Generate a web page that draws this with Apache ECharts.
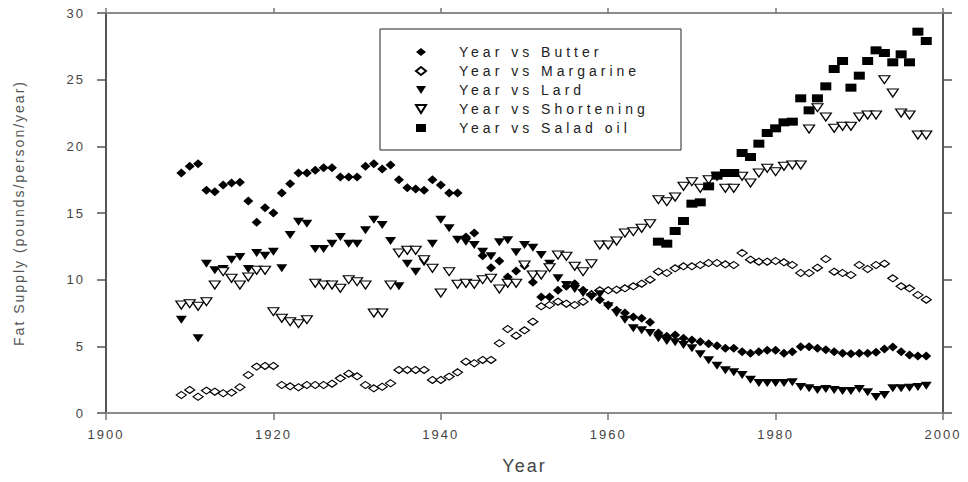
<!DOCTYPE html>
<html><head><meta charset="utf-8">
<script src="https://cdn.jsdelivr.net/npm/echarts@6/dist/echarts.min.js"></script>
<style>
html,body{margin:0;padding:0;background:#fff;}
#c{width:968px;height:482px;}
#c svg text{letter-spacing:2px;}
#c svg text[style*="Arial"]{letter-spacing:4px;}
</style></head><body><div id="c"></div>
<script>
const firstYear = 1909;
const butter = [
18.0,18.5,18.7,16.7,16.6,17.1,17.25,17.3,15.9,14.3,
15.4,15.0,16.5,17.2,18.0,18.0,18.2,18.4,18.4,17.7,
17.7,17.7,18.5,18.7,18.3,18.6,17.5,16.9,16.8,16.7,
17.5,17.1,16.5,16.5,13.2,13.5,11.8,10.9,11.4,10.2,
10.65,11.05,9.8,8.7,8.7,9.2,9.5,9.7,9.2,8.9,
8.5,8.1,7.7,7.5,7.2,7.1,6.8,6.0,5.75,5.85,
5.6,5.48,5.35,5.2,5.05,4.85,4.85,4.6,4.48,4.6,
4.7,4.7,4.48,4.6,4.97,4.97,4.85,4.75,4.6,4.48,
4.45,4.48,4.48,4.55,4.8,4.95,4.6,4.35,4.28,4.28];
const margarine = [
1.35,1.73,1.22,1.68,1.6,1.48,1.53,1.93,2.85,3.48,
3.53,3.53,2.1,2.0,1.93,2.1,2.1,2.1,2.2,2.6,
2.95,2.75,2.1,1.85,1.97,2.23,3.23,3.23,3.23,3.23,
2.48,2.48,2.73,3.05,3.85,3.73,3.98,3.98,5.23,6.3,
5.8,6.2,6.85,8.0,8.1,8.35,8.2,8.1,8.35,8.85,
9.2,9.2,9.25,9.35,9.5,9.7,10.0,10.6,10.5,10.85,
11.0,11.0,11.1,11.25,11.25,11.15,11.1,12.0,11.5,11.35,
11.35,11.4,11.3,11.1,10.5,10.5,10.9,11.55,10.6,10.5,
10.35,11.1,10.8,11.1,11.2,10.1,9.5,9.35,8.85,8.5];
const lard = [
7.0,8.2,5.6,11.2,10.7,10.8,11.5,11.7,10.8,12.0,
11.8,12.1,10.85,13.35,14.35,14.2,12.3,12.3,12.7,13.2,
12.7,12.7,13.7,14.5,14.1,12.9,9.5,11.2,10.6,11.3,
12.7,14.5,13.85,13.0,12.85,12.6,12.1,11.75,12.8,12.95,
12.05,12.6,12.4,11.85,11.2,10.1,9.6,9.3,9.0,8.7,
8.9,8.0,7.5,7.0,6.35,6.2,6.0,5.6,5.4,5.3,
5.1,4.85,4.4,3.95,3.55,3.2,3.05,2.85,2.5,2.25,
2.25,2.25,2.25,2.3,1.95,1.85,1.73,1.8,1.73,1.65,
1.65,1.8,1.55,1.2,1.35,1.85,1.85,1.9,1.95,2.05];
const shortening = [
8.1,8.2,8.0,8.35,9.6,10.6,10.1,9.6,10.2,10.7,
10.7,7.6,7.1,6.85,6.7,7.0,9.73,9.6,9.6,9.35,
10.0,9.85,9.6,7.5,7.5,9.6,12.0,12.2,12.2,11.5,
10.85,9.0,10.6,9.65,9.73,9.65,10.0,10.1,9.3,9.73,
9.73,11.1,10.35,10.35,10.9,11.85,11.75,11.0,10.6,11.2,
12.6,12.6,12.9,13.5,13.6,13.85,14.2,16.0,15.85,16.2,
17.0,17.35,16.85,17.5,17.75,16.85,16.85,17.75,17.25,18.0,
18.35,18.1,18.5,18.6,18.6,21.3,22.9,22.2,21.35,21.5,
21.5,22.2,22.35,22.35,25.0,24.0,22.5,22.35,20.85,20.85];
const saladFirstYear = 1966;
const saladOil = [
12.85,12.7,13.65,14.4,15.7,15.8,17.0,17.8,18.0,18.0,
19.5,19.2,20.2,21.0,21.35,21.8,21.85,23.6,22.7,23.6,
24.5,25.8,26.4,24.4,25.3,26.4,27.2,27.0,26.3,26.9,
26.3,28.6,27.9];
const xTicks = {min:1900, max:2000, step:20};
const yTicks = {min:0, max:30, step:5};
const names = ['Year vs Butter','Year vs Margarine','Year vs Lard','Year vs Shortening','Year vs Salad oil'];

function pts(arr, start){ return arr.map((v,i)=>[start+i, v]); }
const tri = 'path://M0,0L10,0L5,8Z';
const ink = '#000';
const labelFont = 'Liberation Sans';

const chart = echarts.init(document.getElementById('c'), null, {renderer:'svg'});
const axisX = (pos, show) => ({
  type:'value', position:pos, min:xTicks.min, max:xTicks.max, interval:xTicks.step,
  axisLine:{show:true, onZero:false, lineStyle:{color:'#8c8c8c', width:2}},
  axisTick:{show:true, length: show?7:5, lineStyle:{color:'#777', width:1.5}},
  axisLabel:{show:show, margin:15, fontSize:13, color:'#444', fontFamily:labelFont,
             formatter:(v)=>String(v)},
  splitLine:{show:false},
  name: show ? 'Year' : '', nameLocation:'middle', nameGap:44,
  nameTextStyle:{fontSize:18, color:'#444', fontFamily:labelFont}
});
const axisY = (pos, show) => ({
  type:'value', position:pos, min:yTicks.min, max:yTicks.max, interval:yTicks.step,
  axisLine:{show:true, onZero:false, lineStyle:{color:'#555', width:2}},
  axisTick:{show:true, length:9, lineStyle:{color:'#555', width:1.5}},
  axisLabel:{show:show, margin:21, fontSize:13, color:'#444', fontFamily:labelFont,
             formatter:(v)=>String(v)},
  splitLine:{show:false},
  name: show ? 'Fat Supply (pounds/person/year)' : '', nameLocation:'middle', nameGap:80,
  nameTextStyle:{fontSize:14, color:'#555', fontFamily:labelFont}
});

chart.setOption({
  animation:false,
  backgroundColor:'#fff',
  grid:{left:106, right:25, top:13, bottom:69, containLabel:false},
  xAxis:[axisX('bottom', true), axisX('top', false)],
  yAxis:[axisY('left', true), axisY('right', false)],
  legend:{
    orient:'vertical', left:380, top:29, padding:[16,25,15,35], itemGap:5,
    itemWidth:10, itemHeight:8, borderColor:'#222', borderWidth:1, backgroundColor:'#fff',
    selectedMode:false,
    textStyle:{fontFamily:'Arial', fontSize:14, color:'#222', lineHeight:14, width:197, padding:[0,0,0,28]},
    data:names
  },
  series:[
    {name:names[0], type:'scatter', symbol:'diamond', symbolSize:[10,9],
     itemStyle:{color:ink, opacity:1}, data:pts(butter, firstYear)},
    {name:names[1], type:'scatter', symbol:'diamond', symbolSize:[10,7],
     itemStyle:{color:'#fff', borderColor:ink, borderWidth:1.2, opacity:1}, data:pts(margarine, firstYear)},
    {name:names[2], type:'scatter', symbol:tri, symbolSize:[11,8],
     itemStyle:{color:ink, opacity:1}, data:pts(lard, firstYear)},
    {name:names[3], type:'scatter', symbol:tri, symbolSize:[11,8],
     itemStyle:{color:'#fff', borderColor:ink, borderWidth:1.2, opacity:1}, data:pts(shortening, firstYear)},
    {name:names[4], type:'scatter', symbol:'rect', symbolSize:[11,8],
     itemStyle:{color:ink, opacity:1}, data:pts(saladOil, saladFirstYear)}
  ]
});
</script></body></html>
